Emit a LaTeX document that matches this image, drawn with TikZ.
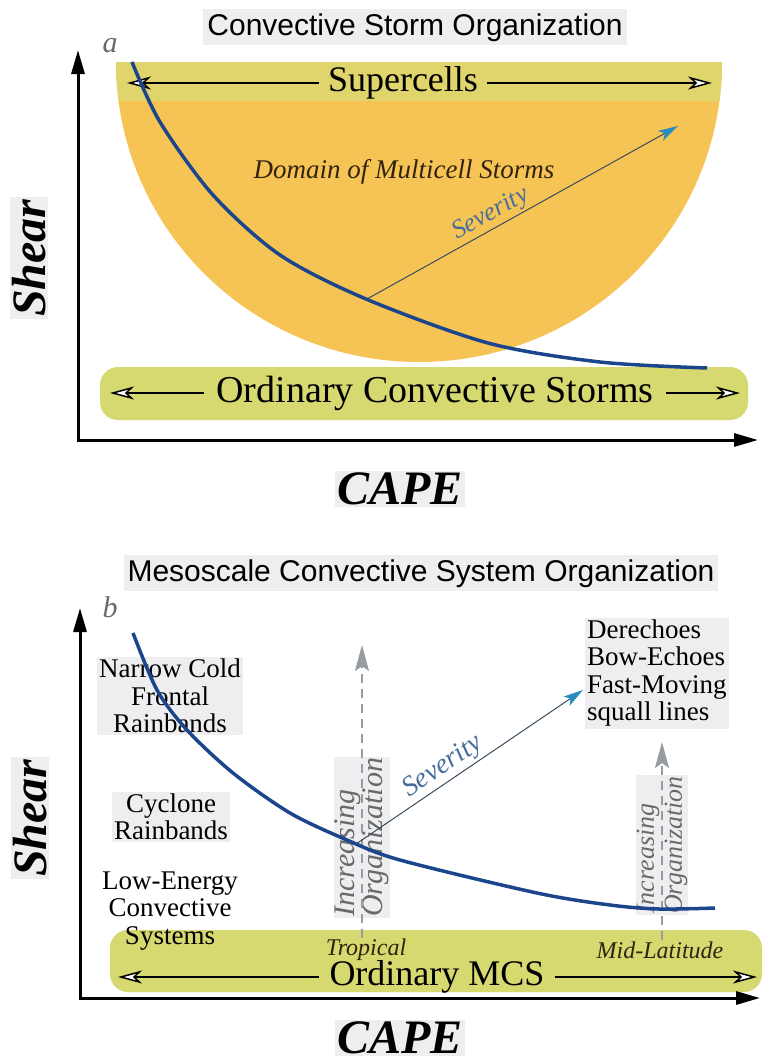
\documentclass[tikz,border=0pt]{standalone}
\usepackage{fontspec}
\setmainfont{Liberation Serif}
\newfontfamily\headfont{Liberation Sans}
\usetikzlibrary{arrows.meta}
\definecolor{bowlorange}{RGB}{246,196,84}
\definecolor{bandgreen}{RGB}{214,216,112}
\definecolor{topband}{RGB}{224,212,108}
\definecolor{curveblue}{RGB}{28,70,140}
\definecolor{sevline}{RGB}{55,75,95}
\definecolor{sevhead}{RGB}{40,140,190}
\definecolor{sevtext}{RGB}{70,110,155}
\definecolor{orggrey}{RGB}{150,156,162}
\definecolor{labelgrey}{RGB}{105,105,105}
\definecolor{hlgrey}{RGB}{238,238,240}
\definecolor{domtext}{RGB}{50,35,15}
\tikzstyle{axisline} = [line width=3pt, {Triangle[length=24pt,width=13pt]}-{Triangle[length=24pt,width=13pt]}]
\tikzstyle{bandfill} = [fill=bandgreen, rounded corners=18pt]
\tikzstyle{spanarrow} = [line width=1.5pt, -{Stealth[length=24pt,width=13pt,inset=7pt,fill=white]}]
\tikzstyle{blueline} = [curveblue, line width=3.5pt]
\tikzstyle{sevarrow} = [sevline, line width=1pt, -{Stealth[length=20pt,width=11pt,inset=5pt,color=sevhead]}]
\tikzstyle{orgarrow} = [orggrey, line width=2.5pt, dash pattern=on 9pt off 6pt, -{Stealth[length=26pt,width=14pt,inset=5pt]}]
\tikzstyle{hl} = [fill=hlgrey]
\tikzstyle{headtitle} = [font={\headfont\fontsize{30}{36}\selectfont}, hl, inner sep=4pt]
\tikzstyle{axlabel} = [font={\bfseries\itshape\fontsize{48}{56}\selectfont}, hl, inner sep=2pt]
\tikzstyle{kindlabel} = [font={\fontsize{27}{27.5}\selectfont}, align=center, inner sep=2pt]
\tikzstyle{panellabel} = [font={\itshape\fontsize{30}{30}\selectfont}, text=labelgrey]
\tikzstyle{sevlabel} = [font={\itshape\fontsize{26}{26}\selectfont}, text=sevtext, sloped, above, inner sep=2pt]
\tikzstyle{orglabel} = [align=left, text=labelgrey, hl, rotate=90, anchor=west, inner sep=1pt]
\tikzstyle{placelabel} = [font={\itshape\fontsize{24}{24}\selectfont}, text=domtext, inner sep=1pt]

\begin{document}
\begin{tikzpicture}[x=1pt,y=1pt]
  \useasboundingbox (0,0) rectangle (764,-1063);
  % panel a
  \node[headtitle,anchor=base](ta) at (415,-35){Convective Storm Organization};
  \node[panellabel](a) at (110,-46){a};
  \fill[bowlorange] (116,-62) arc[start angle=180,end angle=360,x radius=303,y radius=300] -- cycle;
  \begin{scope}
    \clip (116,-62) arc[start angle=180,end angle=360,x radius=303,y radius=300] -- cycle;
    \fill[topband] (116,-62) rectangle (722,-101);
  \end{scope}
  \fill[bandfill] (100,-367) rectangle (748,-420);
  \node[font=\fontsize{36}{40}\selectfont, inner xsep=9pt](sup) at (403,-83){Supercells};
  \coordinate (supL) at (127,-83);
  \coordinate (supR) at (712,-83);
  \draw[spanarrow](sup.west)--(supL);
  \draw[spanarrow](sup.east)--(supR);
  \node[font=\fontsize{38}{42}\selectfont, inner xsep=12pt](ocs) at (435,-393){Ordinary Convective Storms};
  \coordinate (ocsL) at (110,-393);
  \coordinate (ocsR) at (740,-393);
  \draw[spanarrow](ocs.west)--(ocsL);
  \draw[spanarrow](ocs.east)--(ocsR);
  \node[font=\itshape\fontsize{27}{30}\selectfont, text=domtext, anchor=base](dom) at (404,-178){Domain of Multicell Storms};
  \coordinate (s1) at (367,-299);
  \coordinate (s1e) at (678,-126);
  \draw[sevarrow](s1)--node[sevlabel,pos=0.42]{Severity}(s1e);
  \draw[blueline] plot[smooth] coordinates {(132,-62) (160,-122) (213,-195) (280,-255) (366,-299) (488,-343) (600,-362) (707,-368)};
  \coordinate (o1) at (78,-440);
  \coordinate (y1) at (78,-50);
  \coordinate (x1) at (758,-440);
  \draw[axisline](y1)--(o1)--(x1);
  \node[axlabel,rotate=90](sh1) at (29,-258){Shear};
  \node[axlabel](cp1) at (400,-489){CAPE};
  % panel b
  \node[headtitle,anchor=base](tb) at (421,-581){Mesoscale Convective System Organization};
  \node[panellabel](b) at (110,-607){b};
  \node[kindlabel,hl](ncf) at (170,-696){Narrow Cold\\Frontal\\Rainbands};
  \node[kindlabel,hl](cyc) at (171,-817){Cyclone\\Rainbands};
  \fill[bandfill] (110,-930) rectangle (762,-992);
  \node[kindlabel](low) at (170,-911){Low-Energy\\Convective\\Systems};
  \node[kindlabel,align=left,anchor=west,hl](dere) at (585,-673){Derechoes\\Bow-Echoes\\Fast-Moving\\squall lines};
  \node[placelabel](trop) at (366,-950){Tropical};
  \node[placelabel](mid) at (660,-950){Mid-Latitude};
  \node[font=\fontsize{36}{40}\selectfont, inner xsep=10pt](omcs) at (437,-977){Ordinary MCS};
  \coordinate (omL) at (118,-977);
  \coordinate (omR) at (757,-977);
  \draw[spanarrow](omcs.west)--(omL);
  \draw[spanarrow](omcs.east)--(omR);
  \node[orglabel,font=\itshape\fontsize{30}{28}\selectfont](inc1) at (362,-918){Increasing\\Organization};
  \node[orglabel,font=\itshape\fontsize{26}{28}\selectfont](inc2) at (662,-915){Increasing\\Organization};
  \coordinate (t1) at (362,-645);
  \coordinate (m1) at (662,-742);
  \draw[orgarrow](t1 |- trop.north)--(t1);
  \draw[orgarrow](m1 |- mid.north)--(m1);
  \coordinate (s2) at (356,-844);
  \coordinate (s2e) at (583,-690);
  \draw[sevarrow](s2)--node[sevlabel,pos=0.42,font={\itshape\fontsize{28}{28}\selectfont}]{Severity}(s2e);
  \draw[blueline] plot[smooth] coordinates {(133,-633) (157,-690) (187,-730) (233,-773) (290,-813) (347,-840) (400,-860) (537,-893) (610,-905) (659,-909) (715,-908)};
  \coordinate (o2) at (80,-998);
  \coordinate (y2) at (80,-608);
  \coordinate (x2) at (760,-998);
  \draw[axisline](y2)--(o2)--(x2);
  \node[axlabel,rotate=90](sh2) at (30,-818){Shear};
  \node[axlabel](cp2) at (400,-1038){CAPE};
\end{tikzpicture}
\end{document}
